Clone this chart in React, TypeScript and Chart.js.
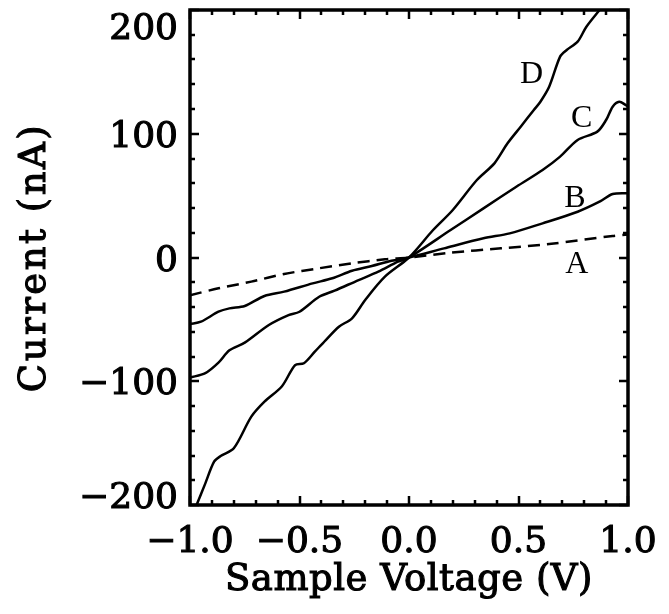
import { useEffect, useRef } from "react";
import { Chart, registerables } from "chart.js";

Chart.register(...registerables);

// Sample voltage (V) and current (nA) for each curve
const VOLT_A = [-1.0, -0.87, -0.72, -0.57, -0.41, -0.26, -0.11, 0, 0.19, 0.42, 0.64, 0.93, 1.0];
const CURR_A = [-30.5, -24.9, -19.5, -13.3, -8.7, -4.7, -1.5, 0, 3.9, 7.4, 10.9, 17.4, 18.5];

const VOLT_B = [-1.0, -0.95, -0.87, -0.82, -0.75, -0.66, -0.57, -0.44, -0.35, -0.26, -0.17, -0.08, 0, 0.16, 0.34, 0.46, 0.61, 0.77, 0.87, 0.93, 1.0];
const CURR_B = [-53.7, -51.9, -43.8, -41.1, -39.2, -31.1, -27.6, -20.9, -16.8, -10.7, -6.9, -2.6, 0, 7.4, 15.5, 19.5, 27.6, 37.0, 45.1, 51.3, 52.0];

const VOLT_C = [-1.0, -0.93, -0.87, -0.82, -0.75, -0.64, -0.55, -0.5, -0.41, -0.34, -0.23, -0.14, -0.05, 0, 0.19, 0.34, 0.49, 0.61, 0.69, 0.77, 0.86, 0.9, 0.93, 0.96, 0.99, 1.0];
const CURR_C = [-97, -93.5, -85, -75, -68.8, -54.5, -46.5, -43.8, -31.7, -26.8, -18.2, -11.5, -3.4, 0, 22.2, 39.7, 57.2, 70.7, 81.5, 95, 101.7, 111.1, 121.9, 125.9, 123.2, 122];

const VOLT_D = [-0.97, -0.93, -0.89, -0.86, -0.8, -0.72, -0.66, -0.58, -0.52, -0.48, -0.43, -0.38, -0.32, -0.26, -0.2, -0.11, 0, 0.11, 0.2, 0.31, 0.39, 0.45, 0.51, 0.57, 0.6, 0.64, 0.69, 0.72, 0.77, 0.81, 0.87];
const CURR_D = [-200, -182.5, -165, -160.4, -154.2, -128.6, -116.5, -104, -86.9, -85.5, -76.1, -66.7, -55.9, -49.1, -34.3, -15.5, 0, 22.2, 38.4, 62.6, 76.1, 92.3, 105.7, 119.2, 125.9, 138, 162.3, 167.7, 174.4, 186.5, 200];

// Curve annotations
const CURVE_NAMES = ["A", "B", "C", "D"];
const NAME_X = [0.766, 0.758, 0.789, 0.56];
const NAME_Y = [-6, 47.8, 112.5, 147.5];

// Axes
const X_MIN = -1.0;
const X_MAX = 1.0;
const X_MAJOR = 0.5;
const X_MINOR = 0.1;
const Y_MIN = -200;
const Y_MAX = 200;
const Y_MAJOR = 100;
const Y_MINOR = 20;
const Y_TICK_VALUES = [-200, -100, 0, 100, 200];
const X_TITLE = "Sample Voltage (V)";
const Y_TITLE = "Current (nA)";

const FONT = "'DejaVu Serif', serif";
const TICK_SIZE = 36;
const TITLE_SIZE = 37;

const toPoints = (xs: number[], ys: number[]) => xs.map((x, i) => ({ x, y: ys[i] }));
const fmt = (v: number, digits: number) => {
  const s = Math.abs(v).toFixed(digits);
  return v < 0 ? "\u2212" + s : s;
};

const heavyText = (ctx: any, text: string, x: number, y: number) => {
  ctx.fillText(text, x, y);
  ctx.strokeText(text, x, y);
};

const framePlugin = {
  id: "frameTicks",
  afterDatasetsDraw(chart: any) {
    const { ctx, chartArea, scales } = chart;
    const { left, right, top, bottom } = chartArea;
    const xs = scales.x;
    const ys = scales.y;
    ctx.save();
    ctx.strokeStyle = "#000";
    ctx.lineWidth = 2.5;
    const nx = Math.round((X_MAX - X_MIN) / X_MINOR);
    for (let i = 0; i <= nx; i++) {
      const v = X_MIN + i * X_MINOR;
      const major = Math.abs(v / X_MAJOR - Math.round(v / X_MAJOR)) < 1e-6;
      const len = major ? 9 : 5;
      const px = Math.round(xs.getPixelForValue(v));
      ctx.beginPath();
      ctx.moveTo(px, bottom);
      ctx.lineTo(px, bottom - len);
      ctx.moveTo(px, top);
      ctx.lineTo(px, top + len);
      ctx.stroke();
    }
    const ny = Math.round((Y_MAX - Y_MIN) / Y_MINOR);
    for (let i = 0; i <= ny; i++) {
      const v = Y_MIN + i * Y_MINOR;
      const major = Math.abs(v / Y_MAJOR - Math.round(v / Y_MAJOR)) < 1e-6;
      const len = major ? 9 : 5;
      const py = Math.round(ys.getPixelForValue(v));
      ctx.beginPath();
      ctx.moveTo(left, py);
      ctx.lineTo(left + len, py);
      ctx.moveTo(right, py);
      ctx.lineTo(right - len, py);
      ctx.stroke();
    }
    ctx.lineWidth = 3.5;
    ctx.strokeRect(left, top, right - left, bottom - top);

    // curve names
    ctx.fillStyle = "#000";
    ctx.font = "32px 'Liberation Serif', serif";
    ctx.textAlign = "center";
    ctx.textBaseline = "middle";
    CURVE_NAMES.forEach((n, i) => {
      ctx.fillText(n, xs.getPixelForValue(NAME_X[i]), ys.getPixelForValue(NAME_Y[i]));
    });

    // y tick labels (end labels kept inside the frame's span)
    ctx.lineWidth = 1.1;
    ctx.font = `${TICK_SIZE}px ${FONT}`;
    ctx.textAlign = "right";
    ctx.textBaseline = "alphabetic";
    const cap = TICK_SIZE * 0.729;
    Y_TICK_VALUES.forEach((v) => {
      let cy = ys.getPixelForValue(v);
      if (v === Y_MAX) cy = top + 16;
      else if (v === Y_MIN) cy = bottom - 10;
      heavyText(ctx, fmt(v, 0), left - 12, cy + cap / 2);
    });

    // axis titles
    ctx.font = `${TITLE_SIZE}px ${FONT}`;
    ctx.textAlign = "center";
    ctx.textBaseline = "alphabetic";
    (ctx as any).letterSpacing = "0.5px";
    heavyText(ctx, X_TITLE, (left + right) / 2, 590);
    (ctx as any).letterSpacing = "2.5px";
    ctx.save();
    ctx.translate(45, (top + bottom) / 2);
    ctx.rotate(-Math.PI / 2);
    heavyText(ctx, Y_TITLE, 0, 0);
    ctx.restore();
    (ctx as any).letterSpacing = "0px";
    ctx.restore();
  },
};

export default function App() {
  const ref = useRef<HTMLCanvasElement | null>(null);
  useEffect(() => {
    document.body.style.margin = "0";
    const canvas = ref.current;
    if (!canvas) return;
    const line = (data: any, dash: number[]) => ({
      data,
      borderColor: "#000",
      borderWidth: 2.5,
      borderDash: dash,
      pointRadius: 0,
      tension: 0.3,
      fill: false,
    });
    const chart = new Chart(canvas, {
      type: "line",
      data: {
        datasets: [
          { label: "A", ...line(toPoints(VOLT_A, CURR_A), [12, 7]) },
          { label: "B", ...line(toPoints(VOLT_B, CURR_B), []) },
          { label: "C", ...line(toPoints(VOLT_C, CURR_C), []) },
          { label: "D", ...line(toPoints(VOLT_D, CURR_D), []) },
        ],
      },
      options: {
        animation: false,
        responsive: false,
        maintainAspectRatio: false,
        layout: { padding: { top: 10, right: 41, left: 0, bottom: 0 } },
        plugins: { legend: { display: false }, tooltip: { enabled: false } },
        scales: {
          x: {
            type: "linear",
            min: X_MIN,
            max: X_MAX,
            afterFit: (s: any) => {
              s.height = 109;
              s.paddingLeft = 0;
              s.paddingRight = 0;
            },
            afterBuildTicks: (s: any) => {
              const t = [];
              for (let v = X_MIN; v <= X_MAX + 1e-9; v += X_MAJOR) t.push({ value: Math.round(v * 10) / 10 });
              s.ticks = t;
            },
            grid: { display: false, drawTicks: false },
            border: { display: false },
            ticks: {
              color: "#000",
              padding: 16,
              maxRotation: 0,
              textStrokeColor: "#000",
              textStrokeWidth: 1.1,
              font: { family: FONT, size: TICK_SIZE },
              callback: (v: any) => fmt(Number(v), 1),
            },
            title: { display: false },
          },
          y: {
            type: "linear",
            min: Y_MIN,
            max: Y_MAX,
            afterFit: (s: any) => {
              s.width = 190;
              s.paddingTop = 0;
              s.paddingBottom = 0;
            },
            grid: { display: false, drawTicks: false },
            border: { display: false },
            ticks: { display: false },
            title: { display: false },
          },
        },
      },
      plugins: [framePlugin],
    });
    return () => chart.destroy();
  }, []);
  return (
    <div style={{ width: 669, height: 614 }}>
      <canvas ref={ref} width={669} height={614} style={{ display: "block" }} />
    </div>
  );
}
